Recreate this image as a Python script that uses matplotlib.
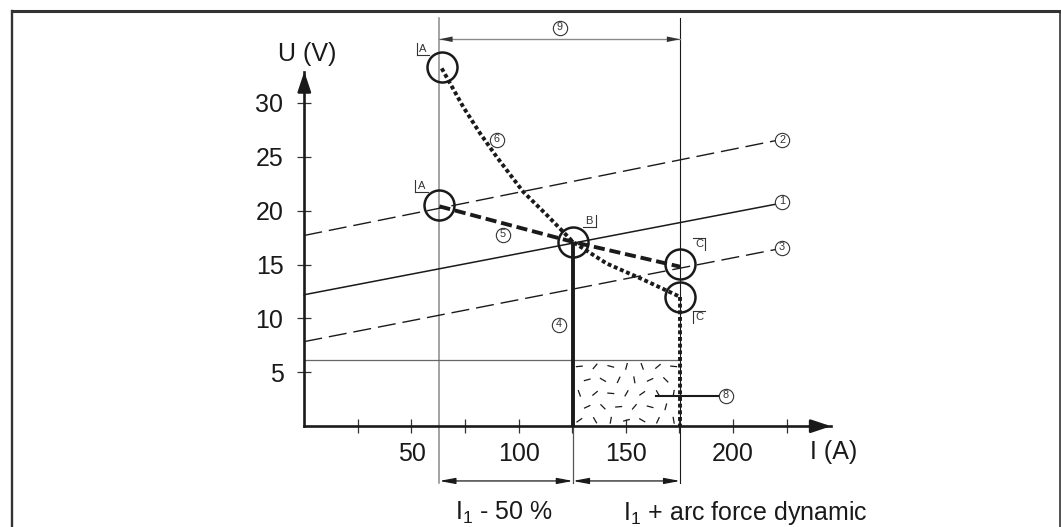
import numpy as np
import matplotlib
matplotlib.use("Agg")
import matplotlib.pyplot as plt
from matplotlib.lines import Line2D
from matplotlib.ticker import FixedLocator, FuncFormatter

plt.rcParams['font.family'] = ['Liberation Sans', 'DejaVu Sans']
plt.rcParams['mathtext.fontset'] = 'custom'
plt.rcParams['mathtext.rm'] = 'Liberation Sans'
plt.rcParams['mathtext.default'] = 'regular'
plt.rcParams['lines.scale_dashes'] = False

INK = '#1a1a1a'
GREY = '#8a8a8a'

# --- axes scales ---
x_ticks = [25, 50, 75, 100, 125, 150, 175, 200, 225]
x_labelled = [50, 100, 150, 200]
y_ticks = [5, 10, 15, 20, 25, 30]
x_max, y_max = 245.7, 32.9

# --- working points (A) ---
I_A = 63.0      # I1 - 50 %
I_B = 125.3     # I1
I_C = 175.3     # I1 + arc force dynamic

# --- static characteristics 1, 2, 3 ---
char_I = [0, 220]
char1_U = [12.2, 20.6]
char2_U = [17.7, 26.5]
char3_U = [7.85, 16.4]

# --- dynamic characteristic 5 (A -> B -> C) ---
dyn_I = [63.0, 125.3, 175.3]
dyn_U = [20.4, 17.1, 14.8]

# --- dynamic characteristic 6 ---
curve_I = [64.1, 74.2, 81.9, 89.7, 102.1, 113.1, 125.3, 141.0, 158.1, 175.3]
curve_U = [33.2, 29.6, 27.2, 25.0, 21.75, 19.6, 17.1, 15.1, 13.6, 12.0]

# --- short-circuit limit ---
limit_U = 6.1

AX_RECT = [0.28681, 0.19127, 0.49642, 0.67287]
fig = plt.figure(figsize=(10.61, 5.27), dpi=100)
ax = fig.add_axes(AX_RECT)
ax.set_xlim(0, x_max)
ax.set_ylim(0, y_max)
ax.patch.set_visible(False)

px_A = fig.get_figwidth() * fig.dpi * AX_RECT[2] / x_max    # pixels per ampere
px_V = fig.get_figheight() * fig.dpi * AX_RECT[3] / y_max   # pixels per volt
pt = fig.dpi / 72.0

# spines with arrow heads
for side in ('top', 'right'):
    ax.spines[side].set_visible(False)
for side in ('left', 'bottom'):
    ax.spines[side].set_linewidth(1.9)
    ax.spines[side].set_color(INK)
for tip, tail in [((1.0, 0), (0.96, 0)), ((0, 1.0), (0, 0.95))]:
    ax.annotate('', xy=tip, xytext=tail, xycoords='axes fraction',
                arrowprops=dict(arrowstyle='-|>,head_length=1.2,head_width=0.4',
                                color=INK, lw=1.9, shrinkA=0, shrinkB=0),
                annotation_clip=False)

ax.xaxis.set_major_locator(FixedLocator(x_ticks))
ax.xaxis.set_major_formatter(FuncFormatter(
    lambda v, p: f"{int(round(v))}" if int(round(v)) in x_labelled else ""))
ax.yaxis.set_major_locator(FixedLocator(y_ticks))
ax.yaxis.set_major_formatter(FuncFormatter(lambda v, p: f"{int(round(v))}"))
ax.tick_params(axis='both', direction='inout', length=10, width=0.9,
               color='#333333', labelsize=18, labelcolor=INK)
ax.tick_params(axis='x', pad=6.5)
ax.tick_params(axis='y', pad=10)

ax.text(14.9, 34.5, "U (V)", fontsize=18, ha='right', va='center', color=INK)
ax.text(235.8, -2.4, "I (A)", fontsize=18, ha='left', va='center', color=INK)

# guide lines
ax.plot([I_A, I_A], [-5.3, 37.87], color=GREY, lw=1.1, clip_on=False, zorder=1)
ax.plot([I_B, I_B], [-5.3, 0], color='#555555', lw=0.9, clip_on=False, zorder=1)
ax.plot([I_C, I_C], [-5.3, 37.87], color=INK, lw=0.8, clip_on=False, zorder=1)
ax.plot([0, I_C], [limit_U, limit_U], color='#666666', lw=0.9, zorder=1)

# textured short-circuit area between B and C
tex_angles = [35, -60, 80, 15, -30, 65, -80, 25, -45, 5, 50, -15, 75, -70, 40, -5, 60]
n_cols, n_rows = 7, 5
col_step = (I_C - I_B - 6) / (n_cols - 1)
row_step = (limit_U - 1.1) / (n_rows - 1)
k = 0
for r in range(n_rows):
    for c in range(n_cols):
        cx = I_B + 3 + c * col_step + (0.5 * col_step if r % 2 else 0)
        if cx > I_C - 2.5:
            continue
        cy = 0.55 + r * row_step
        a = np.radians(tex_angles[k % len(tex_angles)])
        k += 1
        dx = 3.5 * np.cos(a) / px_A
        dy = 3.5 * np.sin(a) / px_V
        ax.plot([cx - dx, cx + dx], [cy - dy, cy + dy], color=INK, lw=0.9,
                solid_capstyle='butt', zorder=2)

# static characteristics
ax.plot(char_I, char1_U, color=INK, lw=1.1, zorder=3, clip_on=False)
for U in (char2_U, char3_U):
    ln, = ax.plot(char_I, U, color=INK, lw=1.0, zorder=3, clip_on=False)
    ln.set_dashes((13, 5))

# current I1 (4)
ax.plot([I_B, I_B], [0, dyn_U[1]], color=INK, lw=2.8, solid_capstyle='butt', zorder=4)

# dynamic characteristic 5
ln, = ax.plot(dyn_I, dyn_U, color=INK, lw=2.8, zorder=4, clip_on=False)
ln.set_dashes((8, 3.5))

# dynamic characteristic 6 and drop at C
ln, = ax.plot(curve_I, curve_U, color=INK, lw=2.8, zorder=4, clip_on=False)
ln.set_dashes((2.8, 2.0))
ln, = ax.plot([I_C, I_C], [curve_U[-1], 0], color=INK, lw=2.8, zorder=4)
ln.set_dashes((2.8, 2.0))

# working point circles
pts_I = [curve_I[0], dyn_I[0], dyn_I[1], dyn_I[2], curve_I[-1]]
pts_U = [curve_U[0] + 0.15, dyn_U[0] + 0.1, dyn_U[1], dyn_U[2] + 0.25, curve_U[-1]]
ax.plot(pts_I, pts_U, ls='none', marker='o', ms=21.6, mfc='none', mec=INK,
        mew=1.8, clip_on=False, zorder=5)


def corner_label(x, y, letter, sides):
    """Letter with two sides of a small frame around it (offsets in points)."""
    ax.text(x, y, letter, fontsize=8, ha='center', va='center', color='#333333',
            zorder=6, clip_on=False)
    hw, hh = 4.6, 4.3
    segs = {'l': ((-hw, -hh), (-hw, hh)), 'r': ((hw, -hh), (hw, hh)),
            'b': ((-hw, -hh), (hw, -hh)), 't': ((-hw, hh), (hw, hh))}
    p0 = ax.transData.transform((x, y))
    for s in sides:
        (ox0, oy0), (ox1, oy1) = segs[s]
        ends = [(p0[0] + ox0 * pt, p0[1] + oy0 * pt),
                (p0[0] + ox1 * pt, p0[1] + oy1 * pt)]
        d = ax.transData.inverted().transform(ends)
        ax.plot(d[:, 0], d[:, 1], color='#333333', lw=0.8, clip_on=False, zorder=6)


corner_label(55.4, 34.96, 'A', 'lb')
corner_label(54.8, 22.31, 'A', 'lb')
corner_label(132.9, 19.04, 'B', 'rb')
corner_label(184.1, 16.87, 'C', 'tr')
corner_label(184.1, 10.16, 'C', 'tl')


def circled(x, y, s):
    ax.plot([x], [y], marker='o', ms=10.3, mfc='white', mec='#333333', mew=0.8,
            clip_on=False, zorder=7)
    ax.text(x, y + 0.05, s, fontsize=7.8, ha='center', va='center',
            color='#333333', zorder=8, clip_on=False)


circled(222.8, 20.83, '1')
circled(222.9, 26.55, '2')
circled(222.9, 16.56, '3')
circled(118.8, 9.39, '4')
circled(92.5, 17.74, '5')
circled(89.7, 26.6, '6')
circled(196.6, 2.83, '8')
circled((I_A + I_C) / 2, 36.96, '9')

# leader to area 8
ax.plot([164.0, 193.5], [2.83, 2.83], color=INK, lw=1.5, zorder=6)

# dimension 9 at the top
ax.plot([I_A, I_C], [35.9, 35.9], color=GREY, lw=1.0, clip_on=False, zorder=2)
for x0, x1 in [(I_A + 8, I_A), (I_C - 8, I_C)]:
    ax.annotate('', xy=(x1, 35.9), xytext=(x0, 35.9),
                arrowprops=dict(arrowstyle='-|>,head_length=0.95,head_width=0.2',
                                color='#333333', lw=0.01, shrinkA=0, shrinkB=0),
                annotation_clip=False)

# dimension arrows below the axis
for x0, x1 in [(I_A, I_B), (I_B, I_C)]:
    ax.annotate('', xy=(x1, -5.08), xytext=(x0, -5.08),
                arrowprops=dict(arrowstyle='<|-|>,head_length=0.95,head_width=0.18',
                                color=INK, lw=0.9, shrinkA=0, shrinkB=0),
                annotation_clip=False)

ax.text(93.2, -8.71, r"$I_1$ - 50 %", fontsize=18, ha='center', va='baseline',
        color=INK)
ax.text(148.6, -8.71, r"$I_1$ + arc force dynamic", fontsize=18, ha='left',
        va='baseline', color=INK)

# frame around the figure
W, H = 1061.0, 527.0
fig.add_artist(Line2D([12 / W, 12 / W], [0, 1 - 11 / H], transform=fig.transFigure,
                      lw=1.7, color='#333333'))
fig.add_artist(Line2D([12 / W, 1060 / W], [1 - 11 / H, 1 - 11 / H],
                      transform=fig.transFigure, lw=2.2, color='#333333'))
fig.add_artist(Line2D([1060 / W, 1060 / W], [0, 1 - 11 / H], transform=fig.transFigure,
                      lw=1.2, color='#333333'))

fig.savefig("out.png", dpi=100)
